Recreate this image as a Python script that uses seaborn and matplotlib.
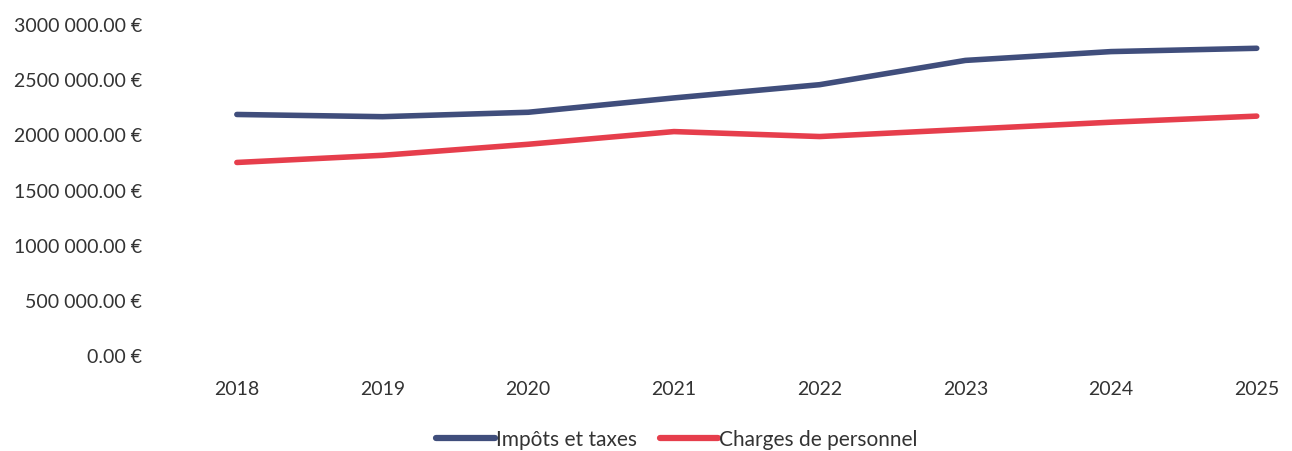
import matplotlib
matplotlib.use("Agg")
import matplotlib.pyplot as plt
import matplotlib.ticker as mticker
import seaborn as sns
import pandas as pd

# Values
years = [2018, 2019, 2020, 2021, 2022, 2023, 2024, 2025]
impots_taxes = [2180000, 2160000, 2200000, 2330000, 2450000, 2670000, 2750000, 2780000]
charges_personnel = [1745000, 1810000, 1910000, 2025000, 1980000, 2045000, 2110000, 2165000]
series_names = ["Impôts et taxes", "Charges de personnel"]
colors = ["#404E7C", "#E63E4C"]

df = pd.DataFrame({"year": years, series_names[0]: impots_taxes, series_names[1]: charges_personnel})
df = df.melt(id_vars="year", var_name="serie", value_name="montant")

sns.set_theme(style="white")
plt.rcParams["font.family"] = ["Lato", "DejaVu Sans"]

fig = plt.figure(figsize=(12.92, 4.52), dpi=100)
ax = fig.add_axes([164 / 1292, 1 - 356 / 452, 1128 / 1292, 331 / 452])

sns.lineplot(data=df, x="year", y="montant", hue="serie", palette=colors,
             linewidth=4, ax=ax, legend=False, solid_capstyle="round")

ax.set_xlim(2017.5, 2017.5 + 1128 / 145.7)
ax.set_ylim(0, 3000000)
ax.set_yticks(range(0, 3000001, 500000))
ax.set_xticks(years)


def euro(v, pos):
    v = int(round(v))
    if v >= 1000:
        return f"{v // 1000} {v % 1000:03d}.00 €"
    return f"{v}.00 €"


ax.yaxis.set_major_formatter(mticker.FuncFormatter(euro))
ax.tick_params(axis="y", labelsize=14, pad=16, length=0, labelcolor="#333333")
ax.tick_params(axis="x", labelsize=14, pad=18, length=0, labelcolor="#333333")
ax.set_xlabel("")
ax.set_ylabel("")
sns.despine(ax=ax, left=True, bottom=True)
ax.grid(False)

handles = [plt.Line2D([], [], color=c, lw=4.5, solid_capstyle="round") for c in colors]
fig.legend(handles, series_names, loc="center", bbox_to_anchor=(677 / 1292, 1 - 440 / 452),
           ncol=2, frameon=False, fontsize=15, handlelength=2.8, handletextpad=0.05,
           columnspacing=1.1, labelcolor="#333333")

fig.savefig("out.png", dpi=100)
